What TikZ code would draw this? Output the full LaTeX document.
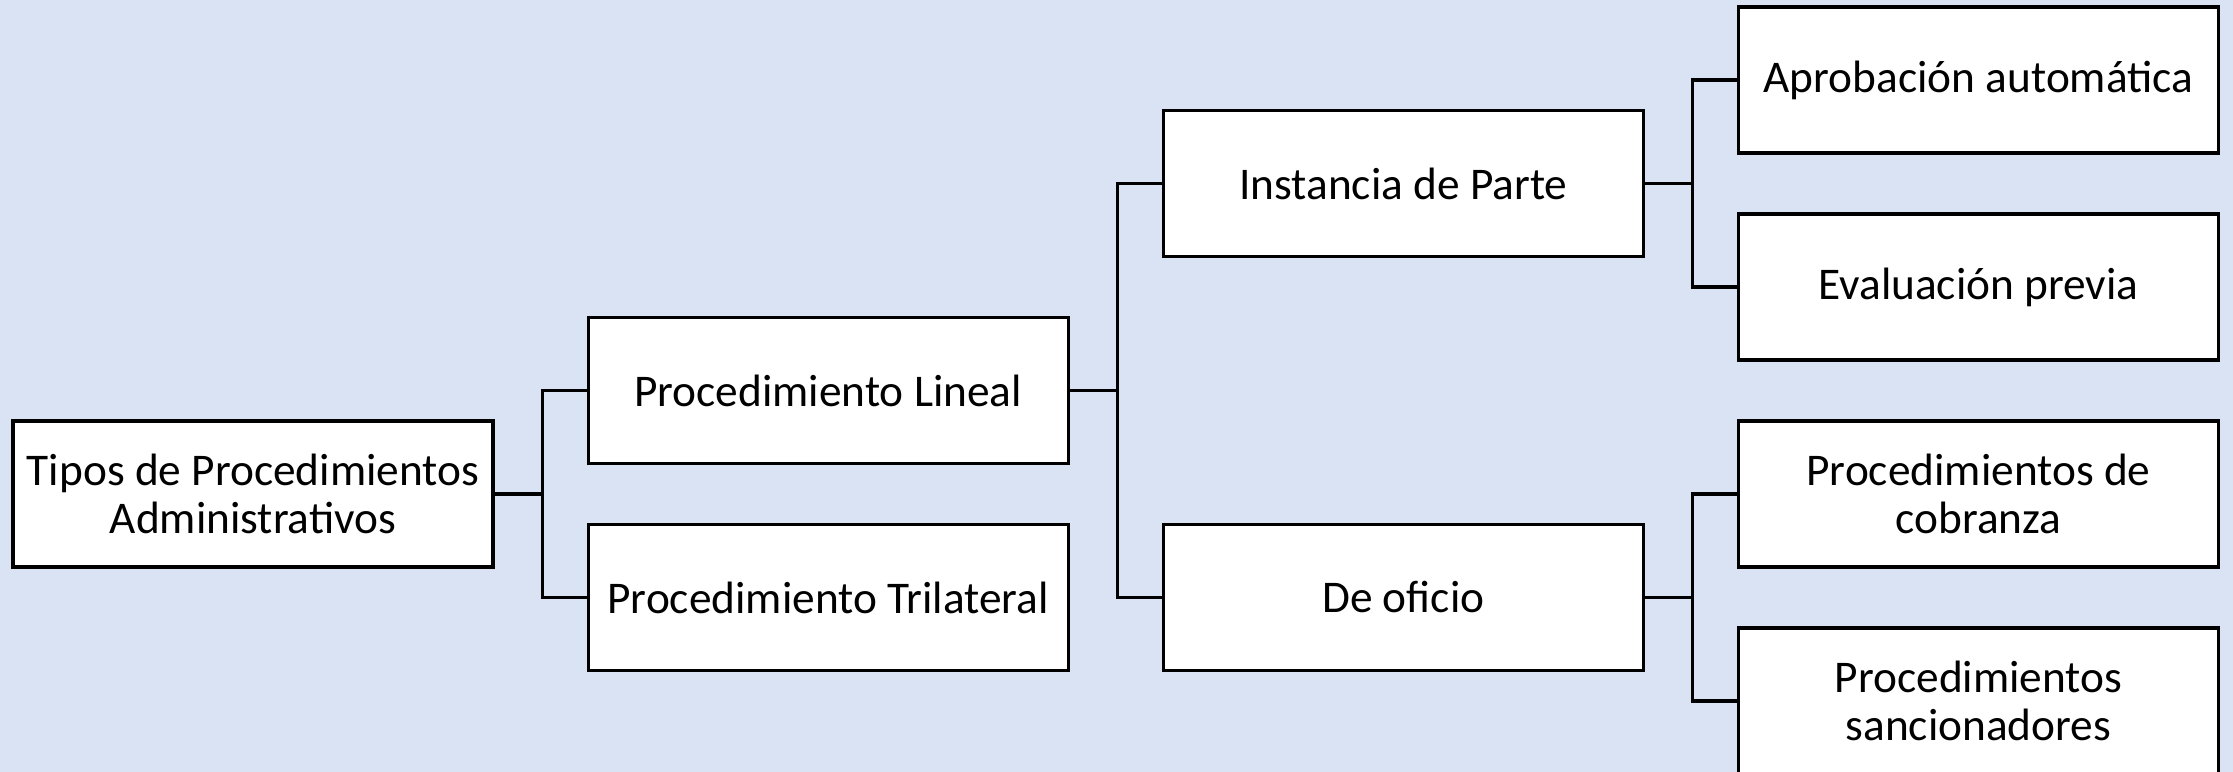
\documentclass[tikz,border=0pt]{standalone}
\usepackage{fontspec}
\setmainfont{Carlito}
\usepackage{tikz}
\usetikzlibrary{positioning}
\definecolor{BackBlue}{HTML}{DAE3F3}

\begin{document}
\begin{tikzpicture}[node distance=0.92cm,
  tipo/.style={draw,line width=0.9pt,fill=white,minimum width=4.8cm,minimum height=1.46cm,
    inner sep=0pt,align=center,font=\fontsize{12.9}{13.9}\selectfont},
  rama/.style={line width=0.9pt}]
  \fill[BackBlue] (0,0) rectangle (22.33,7.72);
  \useasboundingbox (0,0) rectangle (22.33,7.72);
  \node[tipo] (root) at (2.53,2.78) {Tipos de Procedimientos\\Administrativos};
  \node[tipo,right=of root,yshift=1.035cm] (lineal) {Procedimiento Lineal};
  \node[tipo,right=of root,yshift=-1.035cm] (trilat) {Procedimiento Trilateral};
  \node[tipo,right=of lineal,yshift=2.07cm] (parte) {Instancia de Parte};
  \node[tipo,right=of lineal,yshift=-2.07cm] (oficio) {De oficio};
  \node[tipo,right=of parte,yshift=1.035cm] (aprob) {Aprobación automática};
  \node[tipo,right=of parte,yshift=-1.035cm] (eval) {Evaluación previa};
  \node[tipo,right=of oficio,yshift=1.035cm] (cobr) {Procedimientos de\\cobranza};
  \node[tipo,right=of oficio,yshift=-1.035cm] (sanc) {Procedimientos\\sancionadores};
  % connectors
  \draw[rama] (root.east) -- ++(0.475,0) |- (lineal.west);
  \draw[rama] (root.east) -- ++(0.475,0) |- (trilat.west);
  \draw[rama] (lineal.east) -- ++(0.475,0) |- (parte.west);
  \draw[rama] (lineal.east) -- ++(0.475,0) |- (oficio.west);
  \draw[rama] (parte.east) -- ++(0.475,0) |- (aprob.west);
  \draw[rama] (parte.east) -- ++(0.475,0) |- (eval.west);
  \draw[rama] (oficio.east) -- ++(0.475,0) |- (cobr.west);
  \draw[rama] (oficio.east) -- ++(0.475,0) |- (sanc.west);
\end{tikzpicture}
\end{document}
